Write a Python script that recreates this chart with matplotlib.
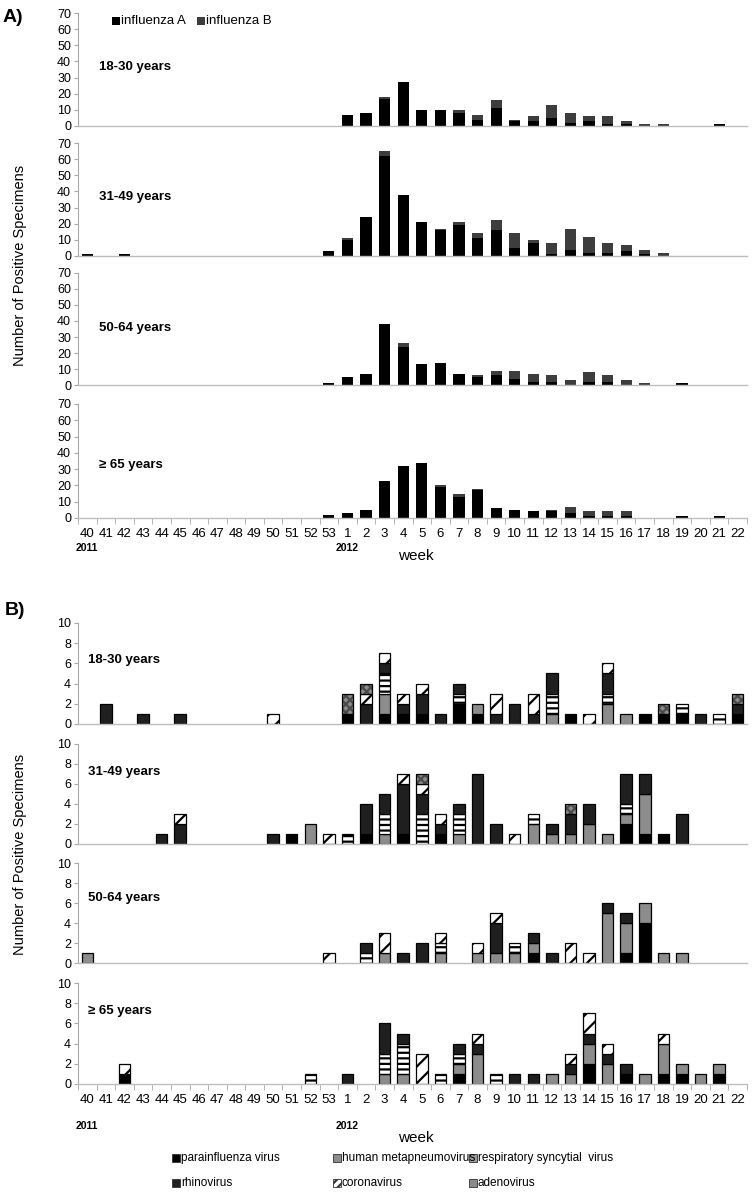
import numpy as np
import matplotlib
matplotlib.use('Agg')
import matplotlib.pyplot as plt
from matplotlib.patches import Rectangle

plt.rcParams['font.family'] = ['Liberation Sans', 'DejaVu Sans']
plt.rcParams['hatch.linewidth'] = 1.6

# ---------------- categories ----------------
week_labels = ['40', '41', '42', '43', '44', '45', '46', '47', '48', '49', '50', '51', '52', '53',
               '1', '2', '3', '4', '5', '6', '7', '8', '9', '10', '11', '12', '13', '14', '15',
               '16', '17', '18', '19', '20', '21', '22']
age_groups = ['18-30 years', '31-49 years', '50-64 years', '\u2265 65 years']

# ---------------- panel A: influenza ----------------
#            weeks 40..53 (2011)                    | weeks 1..22 (2012)
fluA_18_30 = [0, 0, 0, 0, 0, 0, 0, 0, 0, 0, 0, 0, 0, 0, 7, 8, 17, 27, 10, 10, 8, 4, 11, 3, 3, 5, 2, 3, 1, 1, 0, 0, 0, 0, 1, 0]
fluB_18_30 = [0, 0, 0, 0, 0, 0, 0, 0, 0, 0, 0, 0, 0, 0, 0, 0, 1, 0, 0, 0, 2, 3, 5, 1, 3, 8, 6, 3, 5, 2, 1, 1, 0, 0, 0, 0]
fluA_31_49 = [1, 0, 1, 0, 0, 0, 0, 0, 0, 0, 0, 0, 0, 3, 10, 24, 62, 38, 21, 16, 19, 11, 16, 5, 8, 1, 4, 2, 2, 3, 1, 0, 0, 0, 0, 0]
fluB_31_49 = [0, 0, 0, 0, 0, 0, 0, 0, 0, 0, 0, 0, 0, 0, 1, 0, 3, 0, 0, 1, 2, 3, 6, 9, 2, 7, 13, 10, 6, 4, 3, 2, 0, 0, 0, 0]
fluA_50_64 = [0, 0, 0, 0, 0, 0, 0, 0, 0, 0, 0, 0, 0, 1, 5, 7, 38, 24, 13, 14, 7, 5, 6, 4, 2, 2, 0, 2, 2, 0, 0, 0, 1, 0, 0, 0]
fluB_50_64 = [0, 0, 0, 0, 0, 0, 0, 0, 0, 0, 0, 0, 0, 0, 0, 0, 0, 2, 0, 0, 0, 1, 3, 5, 5, 4, 3, 6, 4, 3, 1, 0, 0, 0, 0, 0]
fluA_65 = [0, 0, 0, 0, 0, 0, 0, 0, 0, 0, 0, 0, 0, 2, 3, 5, 23, 32, 34, 19, 13, 17, 6, 5, 4, 4, 3, 1, 1, 1, 0, 0, 1, 0, 1, 0]
fluB_65 = [0, 0, 0, 0, 0, 0, 0, 0, 0, 0, 0, 0, 0, 0, 0, 0, 0, 0, 0, 1, 2, 1, 0, 0, 0, 1, 4, 3, 3, 3, 0, 0, 0, 0, 0, 0]

# ---------------- panel B: other respiratory viruses ----------------
para_18_30 = [0, 0, 0, 0, 0, 0, 0, 0, 0, 0, 0, 0, 0, 0, 1, 0, 1, 1, 1, 0, 2, 1, 0, 0, 0, 0, 1, 0, 0, 0, 1, 1, 1, 0, 0, 1]
hmpv_18_30 = [0, 0, 0, 0, 0, 0, 0, 0, 0, 0, 0, 0, 0, 0, 0, 0, 2, 0, 0, 0, 0, 1, 0, 0, 0, 1, 0, 0, 2, 1, 0, 0, 0, 0, 0, 0]
rsv_18_30 = [0, 0, 0, 0, 0, 0, 0, 0, 0, 0, 0, 0, 0, 0, 0, 0, 2, 0, 0, 0, 1, 0, 0, 0, 0, 2, 0, 0, 1, 0, 0, 0, 1, 0, 1, 0]
rhino_18_30 = [0, 2, 0, 1, 0, 1, 0, 0, 0, 0, 0, 0, 0, 0, 0, 2, 1, 1, 2, 1, 1, 0, 1, 2, 1, 2, 0, 0, 2, 0, 0, 0, 0, 1, 0, 1]
corona_18_30 = [0, 0, 0, 0, 0, 0, 0, 0, 0, 0, 1, 0, 0, 0, 0, 1, 1, 1, 1, 0, 0, 0, 2, 0, 2, 0, 0, 1, 1, 0, 0, 0, 0, 0, 0, 0]
adeno_18_30 = [0, 0, 0, 0, 0, 0, 0, 0, 0, 0, 0, 0, 0, 0, 2, 1, 0, 0, 0, 0, 0, 0, 0, 0, 0, 0, 0, 0, 0, 0, 0, 1, 0, 0, 0, 1]

para_31_49 = [0, 0, 0, 0, 0, 0, 0, 0, 0, 0, 0, 1, 0, 0, 0, 1, 0, 1, 0, 1, 0, 0, 0, 0, 0, 0, 0, 0, 0, 2, 1, 1, 0, 0, 0, 0]
hmpv_31_49 = [0, 0, 0, 0, 0, 0, 0, 0, 0, 0, 0, 0, 2, 0, 0, 0, 1, 0, 0, 0, 1, 0, 0, 0, 2, 1, 1, 2, 1, 1, 4, 0, 0, 0, 0, 0]
rsv_31_49 = [0, 0, 0, 0, 0, 0, 0, 0, 0, 0, 0, 0, 0, 0, 1, 0, 2, 0, 3, 0, 2, 0, 0, 0, 1, 0, 0, 0, 0, 1, 0, 0, 0, 0, 0, 0]
rhino_31_49 = [0, 0, 0, 0, 1, 2, 0, 0, 0, 0, 1, 0, 0, 0, 0, 3, 2, 5, 2, 1, 1, 7, 2, 0, 0, 1, 2, 2, 0, 3, 2, 0, 3, 0, 0, 0]
corona_31_49 = [0, 0, 0, 0, 0, 1, 0, 0, 0, 0, 0, 0, 0, 1, 0, 0, 0, 1, 1, 1, 0, 0, 0, 1, 0, 0, 0, 0, 0, 0, 0, 0, 0, 0, 0, 0]
adeno_31_49 = [0, 0, 0, 0, 0, 0, 0, 0, 0, 0, 0, 0, 0, 0, 0, 0, 0, 0, 1, 0, 0, 0, 0, 0, 0, 0, 1, 0, 0, 0, 0, 0, 0, 0, 0, 0]

para_50_64 = [0, 0, 0, 0, 0, 0, 0, 0, 0, 0, 0, 0, 0, 0, 0, 0, 0, 0, 0, 0, 0, 0, 0, 0, 1, 0, 0, 0, 0, 1, 4, 0, 0, 0, 0, 0]
hmpv_50_64 = [1, 0, 0, 0, 0, 0, 0, 0, 0, 0, 0, 0, 0, 0, 0, 0, 1, 0, 0, 1, 0, 1, 1, 1, 1, 0, 0, 0, 5, 3, 2, 1, 1, 0, 0, 0]
rsv_50_64 = [0, 0, 0, 0, 0, 0, 0, 0, 0, 0, 0, 0, 0, 0, 0, 1, 0, 0, 0, 1, 0, 0, 0, 1, 0, 0, 0, 0, 0, 0, 0, 0, 0, 0, 0, 0]
rhino_50_64 = [0, 0, 0, 0, 0, 0, 0, 0, 0, 0, 0, 0, 0, 0, 0, 1, 0, 1, 2, 0, 0, 0, 3, 0, 1, 1, 0, 0, 1, 1, 0, 0, 0, 0, 0, 0]
corona_50_64 = [0, 0, 0, 0, 0, 0, 0, 0, 0, 0, 0, 0, 0, 1, 0, 0, 2, 0, 0, 1, 0, 1, 1, 0, 0, 0, 2, 1, 0, 0, 0, 0, 0, 0, 0, 0]
adeno_50_64 = [0, 0, 0, 0, 0, 0, 0, 0, 0, 0, 0, 0, 0, 0, 0, 0, 0, 0, 0, 0, 0, 0, 0, 0, 0, 0, 0, 0, 0, 0, 0, 0, 0, 0, 0, 0]

para_65 = [0, 0, 1, 0, 0, 0, 0, 0, 0, 0, 0, 0, 0, 0, 0, 0, 0, 0, 0, 0, 1, 0, 0, 0, 0, 0, 0, 2, 0, 1, 0, 1, 1, 0, 1, 0]
hmpv_65 = [0, 0, 0, 0, 0, 0, 0, 0, 0, 0, 0, 0, 0, 0, 0, 0, 1, 1, 0, 0, 1, 3, 0, 0, 0, 1, 1, 2, 2, 0, 1, 3, 1, 1, 1, 0]
rsv_65 = [0, 0, 0, 0, 0, 0, 0, 0, 0, 0, 0, 0, 1, 0, 0, 0, 2, 3, 0, 1, 1, 0, 1, 0, 0, 0, 0, 0, 0, 0, 0, 0, 0, 0, 0, 0]
rhino_65 = [0, 0, 0, 0, 0, 0, 0, 0, 0, 0, 0, 0, 0, 0, 1, 0, 3, 1, 0, 0, 1, 1, 0, 1, 1, 0, 1, 1, 1, 1, 0, 0, 0, 0, 0, 0]
corona_65 = [0, 0, 1, 0, 0, 0, 0, 0, 0, 0, 0, 0, 0, 0, 0, 0, 0, 0, 3, 0, 0, 1, 0, 0, 0, 0, 1, 2, 1, 0, 0, 1, 0, 0, 0, 0]
adeno_65 = [0, 0, 0, 0, 0, 0, 0, 0, 0, 0, 0, 0, 0, 0, 0, 0, 0, 0, 0, 0, 0, 0, 0, 0, 0, 0, 0, 0, 0, 0, 0, 0, 0, 0, 0, 0]

flu_legend = ['influenza A', 'influenza B']
virus_legend = ['parainfluenza virus', 'human metapneumovirus', 'respiratory syncytial  virus',
                'rhinovirus', 'coronavirus', 'adenovirus']

# ---------------- figure ----------------
W, H = 754, 1193
fig = plt.figure(figsize=(W / 100, H / 100), dpi=100)
x = np.arange(len(week_labels))
AX_L, AX_R = 78, 747
SPINE = '#a8a8a8'


def make_ax(top, bottom):
    return fig.add_axes([AX_L / W, 1 - bottom / H, (AX_R - AX_L) / W, (bottom - top) / H])


def style_ax(ax, ymax, step, show_x):
    ax.set_xlim(-0.5, len(week_labels) - 0.5)
    ax.set_ylim(0, ymax)
    ax.set_yticks(np.arange(0, ymax + 1, step))
    for s in ['top', 'right']:
        ax.spines[s].set_visible(False)
    ax.spines['left'].set_color(SPINE)
    ax.spines['bottom'].set_color('#bdbdbd')
    ax.spines['bottom'].set_linewidth(1.0)
    ax.tick_params(axis='y', length=3, color=SPINE, labelsize=9, pad=2)
    if show_x:
        ax.set_xticks(x)
        ax.set_xticklabels(week_labels, fontsize=9.5)
        ax.set_xticks(np.arange(-0.5, len(week_labels), 1), minor=True)
        ax.tick_params(axis='x', which='major', length=0, pad=7)
        ax.tick_params(axis='x', which='minor', length=4, color=SPINE)
    else:
        ax.set_xticks([])
    ax.patch.set_alpha(0)


def px(xp, yp):
    return xp / W, 1 - yp / H


# ---------------- panel A ----------------
a_tops = [13, 143, 273, 404]
a_bots = [126, 256, 385, 518]
fluA = [fluA_18_30, fluA_31_49, fluA_50_64, fluA_65]
fluB = [fluB_18_30, fluB_31_49, fluB_50_64, fluB_65]
a_label_y = [67, 197, 328, 465]
for i in range(4):
    ax = make_ax(a_tops[i], a_bots[i])
    va = np.asarray(fluA[i], float)
    vb = np.asarray(fluB[i], float)
    m = va > 0
    ax.bar(x[m], va[m], width=0.6, color='#000000', linewidth=0, zorder=2)
    m = vb > 0
    ax.bar(x[m], vb[m], bottom=va[m], width=0.6, color='#3d3d3d', linewidth=0, zorder=2)
    style_ax(ax, 70, 10, i == 3)
    fig.text(*px(99, a_label_y[i]), age_groups[i], fontsize=9.5, fontweight='bold',
             ha='left', va='center')

fig.text(*px(3, 18), 'A)', fontsize=14, fontweight='bold', ha='left', va='center')
fig.text(*px(20, 265), 'Number of Positive Specimens', rotation=90, fontsize=10.5,
         ha='center', va='center')
fig.text(*px(87, 548), '2011', fontsize=7.5, fontweight='bold', ha='center', va='center')
fig.text(*px(347, 548), '2012', fontsize=7.5, fontweight='bold', ha='center', va='center')
fig.text(*px(416, 556), 'week', fontsize=11, ha='center', va='center')

# legend A
for (sx, col, lab) in [(112, '#000000', flu_legend[0]), (197, '#3d3d3d', flu_legend[1])]:
    fig.add_artist(Rectangle(px(sx, 25), 8 / W, 8 / H, transform=fig.transFigure,
                             facecolor=col, edgecolor='none'))
    fig.text(*px(sx + 9, 21), lab, fontsize=9.5, ha='left', va='center')

# ---------------- panel B ----------------
styles = [
    dict(fc='#000000'),
    dict(fc='#8c8c8c'),
    dict(fc='white', hatch='---'),
    dict(fc='#1f1f1f'),
    dict(fc='white', hatch='//'),
    dict(fc='#8a8a8a', hatch='xxxx', hc='#4a4a4a'),
]
b_series = [
    [para_18_30, hmpv_18_30, rsv_18_30, rhino_18_30, corona_18_30, adeno_18_30],
    [para_31_49, hmpv_31_49, rsv_31_49, rhino_31_49, corona_31_49, adeno_31_49],
    [para_50_64, hmpv_50_64, rsv_50_64, rhino_50_64, corona_50_64, adeno_50_64],
    [para_65, hmpv_65, rsv_65, rhino_65, corona_65, adeno_65],
]
b_tops = [623, 744, 863, 983]
b_bots = [724, 844, 963, 1084]
b_label_y = [660, 772, 898, 1011]
BW = 0.62
for i in range(4):
    ax = make_ax(b_tops[i], b_bots[i])
    bottom = np.zeros(len(x))
    for vals, st in zip(b_series[i], styles):
        v = np.asarray(vals, float)
        m = v > 0
        if m.any():
            if 'hc' in st:
                ax.bar(x[m], v[m], bottom=bottom[m], width=BW, facecolor=st['fc'],
                       edgecolor=st['hc'], hatch=st.get('hatch'), linewidth=0, zorder=2)
                ax.bar(x[m], v[m], bottom=bottom[m], width=BW, fill=False,
                       edgecolor='black', linewidth=0.9, zorder=3)
            else:
                ax.bar(x[m], v[m], bottom=bottom[m], width=BW, facecolor=st['fc'],
                       edgecolor='black', hatch=st.get('hatch'), linewidth=0.9, zorder=2)
        bottom += v
    style_ax(ax, 10, 2, i == 3)
    fig.text(*px(88, b_label_y[i]), age_groups[i], fontsize=9.5, fontweight='bold',
             ha='left', va='center')

fig.text(*px(5, 610), 'B)', fontsize=14, fontweight='bold', ha='left', va='center')
fig.text(*px(20, 854), 'Number of Positive Specimens', rotation=90, fontsize=10.5,
         ha='center', va='center')
fig.text(*px(87, 1126), '2011', fontsize=7.5, fontweight='bold', ha='center', va='center')
fig.text(*px(347, 1126), '2012', fontsize=7.5, fontweight='bold', ha='center', va='center')
fig.text(*px(416, 1138), 'week', fontsize=11, ha='center', va='center')

# legend B
leg_styles = [
    dict(fc='#000000'), dict(fc='#8c8c8c'), dict(fc='#9a9a9a'),
    dict(fc='#1f1f1f'), dict(fc='white', hatch='////'), dict(fc='#8a8a8a'),
]
leg_x = [172, 333, 469, 172, 333, 469]
leg_y = [1158, 1158, 1158, 1183, 1183, 1183]
for lab, st, lx, ly in zip(virus_legend, leg_styles, leg_x, leg_y):
    fig.add_artist(Rectangle(px(lx, ly + 4), 8 / W, 8 / H, transform=fig.transFigure,
                             facecolor=st['fc'], edgecolor='#333333', linewidth=0.6,
                             hatch=st.get('hatch')))
    fig.text(*px(lx + 9, ly), lab, fontsize=8.5, ha='left', va='center')

fig.savefig('out.png', dpi=100)
